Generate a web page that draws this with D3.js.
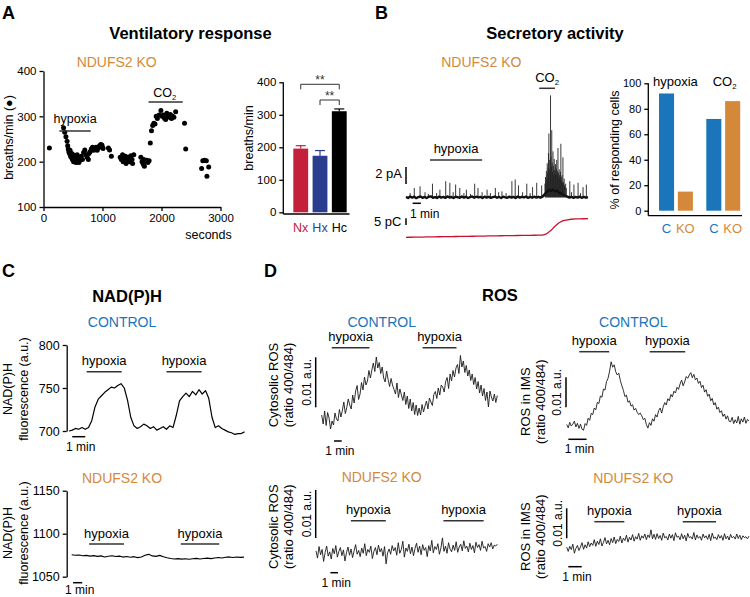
<!DOCTYPE html>
<html>
<head>
<meta charset="utf-8">
<title>ndufs2_ko_figure</title>
<script src="https://cdn.jsdelivr.net/npm/d3@7"></script>
<style>
body{margin:0;background:#fff;}
</style>
</head>
<body>
<script>
// ---------- data ----------
// A: ventilation scatter [seconds, breaths/min]
var ventPoints = [[100,230],
 [340,275],[360,265],[380,255],[400,245],[410,235],[420,228],[430,222],[440,218],[450,225],[460,212],[470,210],[480,218],[490,205],[500,215],[510,200],[520,208],[530,203],[540,212],[550,198],[560,205],[570,215],[580,200],[590,208],[600,198],[610,210],[620,203],[640,212],[660,205],[680,220],[700,226],[720,215],[740,210],[760,205],[770,218],[790,222],[810,228],[830,232],[850,225],[870,228],[890,232],[910,225],[930,230],[950,235],[970,238],[990,237],[1000,232],[1010,229],
 [1100,230],[1120,226],[1150,212],
 [1300,210],[1320,205],[1340,215],[1350,200],[1370,208],[1390,212],[1400,196],[1420,205],[1440,210],[1460,200],[1480,213],[1500,205],[1510,196],[1530,215],
 [1650,210],[1670,200],[1690,195],[1700,205],[1710,190],[1730,200],[1750,203],[1770,198],[1790,202],
 [1810,241],[1830,268],[1850,280],[1870,285],[1890,283],[1910,300],[1930,295],[1960,303],[1990,313],[2010,300],[2030,303],[2050,296],[2070,293],[2090,307],[2110,300],[2130,298],[2150,304],[2170,295],[2190,300],[2210,298],[2240,310],
 [2390,285],[2410,228],
 [2680,185],[2700,202],[2730,203],[2760,202],[2770,168],[2800,188]];
var ventHypoxia = [270, 800];
var ventCO2 = [1780, 2360];

// A: bar chart
var ventCats = ['Nx', 'Hx', 'Hc'];
var ventMeans = [196, 174, 311];
var ventSem = [9, 16, 7];
var ventColors = ['#c4203b', '#2b3d8f', '#000000'];

// B: amperometric trace (minutes, pA)
var ampBaseline = [0.05,-0.08,0.10,-0.04,0.07,-0.10,0.03,0.09,-0.06,0.04,
 -0.09,0.06,0.11,-0.05,0.02,-0.08,0.08,-0.03,0.05,-0.07,
 0.10,-0.02,0.04,-0.09,0.07,0.01,-0.06,0.09,-0.04,0.06,
 -0.08,0.03,0.10,-0.05,0.07,-0.02,0.05,-0.09,0.08,-0.03,
 0.06,-0.07,0.02,0.09,-0.05,0.04,-0.08,0.07,0.00,-0.06,
 0.08,-0.03,0.05,-0.09,0.10,-0.04,0.06,-0.02,0.09,-0.07,
 0.04,-0.05,0.07,-0.03,0.06,-0.04,0.08,0.35,0.60,0.85,
 0.75,0.90,0.70,0.80,0.55,0.45,0.30,0.18,0.08,-0.04,
 0.06,-0.07,0.05,-0.03,0.08,-0.06,0.04,-0.05,0.03];
var ampSpikes = [[0.5,0.5],[1.0,1.1],[1.7,1.3],[2.3,0.6],[2.7,0.4],[3.2,1.6],[3.7,0.5],[4.1,0.9],[4.8,1.9],[5.3,1.7],[5.7,0.6],[6.0,1.5],[6.5,1.1],[7.0,0.5],[7.3,0.9],[7.8,0.4],[8.3,1.6],[8.7,1.1],[9.2,0.6],[9.8,0.9],[10.2,0.5],[10.8,1.1],[11.2,0.6],[11.6,0.7],[12.1,0.5],[12.8,1.9],[13.2,2.1],[13.6,1.4],[14.1,0.6],[14.6,1.6],[15.0,0.5],[15.3,1.2],[15.8,1.7],[16.4,1.4],
 [16.80,1.6],[16.86,2.4],[16.92,1.9],[16.97,3.1],[17.02,2.2],[17.07,4.0],[17.12,2.8],[17.17,3.5],[17.22,5.2],[17.27,7.5],[17.32,3.3],[17.37,4.4],[17.42,2.9],[17.47,12.0],[17.52,4.8],[17.57,3.6],[17.62,7.9],[17.67,4.1],[17.72,3.0],[17.77,5.4],[17.82,3.7],[17.87,2.6],[17.92,4.5],[17.97,3.2],[18.02,2.8],[18.07,3.9],[18.12,2.5],[18.17,3.4],[18.22,4.4],[18.27,2.7],[18.32,3.1],[18.37,5.8],[18.42,2.9],[18.47,2.3],[18.52,3.3],[18.57,2.6],[18.62,2.1],[18.67,3.0],[18.72,6.3],[18.77,2.4],[18.82,1.9],[18.87,2.6],[18.92,1.7],[18.97,4.7],[19.02,1.8],[19.07,1.5],[19.12,2.2],[19.17,1.4],[19.22,1.2],[19.30,1.6],[19.38,1.1],
 [19.8,1.9],[20.0,0.6],[20.3,1.5],[20.8,1.7],[21.1,0.5],[21.4,1.2],[21.8,1.5]];
// cumulative charge, pC, every 0.5 min
var ampCharge = [0,0.05,0.1,0.15,0.2,0.25,0.3,0.35,0.4,0.45,0.5,0.55,0.6,0.65,0.7,0.75,0.8,0.85,0.9,0.95,1.0,1.05,1.1,1.15,1.2,1.25,1.3,1.35,1.4,1.45,1.5,1.55,1.6,1.7,2.6,5.0,8.3,10.9,12.4,13.1,13.5,13.7,13.8,13.85,13.9];
var ampHypoxia = [2.9, 9.2];
var ampCO2 = [16.1, 18.0];

// B: % responding cells
var respGroups = ['hypoxia', 'CO2'];
var respKinds = ['C', 'KO'];
var respValues = [[92, 15], [72, 86]];

// C: NAD(P)H fluorescence (a.u.)
var nadCtl = [700,701,703,702,704,702,704,712,728,737,741,745,748,751,750,753,755,750,736,716,706,703,705,708,706,703,705,701,703,705,702,706,704,718,735,740,744,740,746,742,748,743,747,738,716,704,706,703,701,699,698,696,697,697,699];
var nadKO = [1075.5,1075.0,1075.3,1074.4,1074.8,1073.9,1074.5,1073.6,1074.2,1073.0,1073.8,1074.3,1073.4,1073.9,1072.8,1073.5,1072.6,1073.3,1072.2,1073.0,1075.0,1076.0,1074.2,1073.6,1074.8,1073.1,1072.0,1071.2,1070.6,1071.0,1070.4,1070.9,1070.2,1070.8,1071.3,1070.5,1071.1,1071.6,1071.0,1071.8,1072.3,1071.7,1072.6,1073.0,1072.4,1072.9,1072.5,1072.8];
var nadCtlHypoxia = [[1.36, 4.05], [7.5, 10.2]];
var nadKOHypoxia = [[1.9, 5.7], [11.9, 16.1]];

// D: ROS ratio 400/484, in 0.001 a.u. above the trace minimum
var cytoCtl = [3.0,1.2,3.8,0.9,3.5,2.4,0.2,1.8,
 1.0,3.4,2.2,1.8,4.1,2.6,3.9,5.6,3.3,4.5,6.2,5.0,4.2,7.0,5.4,7.8,8.9,6.1,7.2,9.5,8.0,10.6,9.0,9.8,11.9,10.4,
 12.0,13.4,11.7,14.6,12.4,13.5,
 11.3,12.6,10.4,9.6,11.8,10.1,8.7,10.3,9.0,8.1,7.2,9.4,6.5,8.2,7.0,5.9,7.6,5.1,6.8,4.3,6.2,3.8,
 5.5,3.1,5.0,2.9,
 4.4,3.0,5.1,3.6,4.8,5.8,4.2,6.4,5.6,4.9,7.1,7.7,6.3,8.4,7.0,9.0,8.6,7.6,9.7,10.5,8.3,11.2,9.8,11.9,10.6,12.4,13.1,
 11.3,14.9,12.6,13.8,
 11.5,12.9,10.8,12.0,9.9,11.2,9.1,10.5,8.2,9.7,7.4,9.0,6.8,8.3,5.9,7.6,4.6,7.8,6.6,5.8,7.2,5.5,6.9];
var cytoKO = [1.9,0.4,2.8,1.1,2.2,-0.3,1.6,2.9,0.8,1.7,0.2,2.4,1.3,3.0,0.6,1.8,2.6,0.9,2.1,-0.2,
 1.5,2.7,1.0,2.3,0.5,1.9,3.2,1.2,2.0,0.7,2.5,1.4,3.4,0.9,2.2,1.6,2.9,0.3,1.8,2.6,
 1.1,3.1,1.7,2.4,0.8,2.8,-0.8,1.5,2.3,1.2,3.0,1.9,2.6,1.0,3.6,1.4,2.2,3.9,0.6,2.5,
 1.8,3.3,1.3,2.7,0.9,2.4,3.5,1.6,2.9,1.1,3.2,2.0,2.6,0.7,3.0,1.9,4.1,1.5,2.8,2.2,
 3.4,1.2,2.5,4.6,1.8,2.9,1.4,3.6,2.3,1.7,3.1,2.0,3.8,1.6,2.7,3.3,1.9,4.0,2.4,2.9,
 1.7,3.5,2.2,3.0,1.5,3.7,2.6,3.2,2.0,3.9,2.5,2.8,1.8,3.4,2.7,3.6,2.3,3.1,2.9,3.3];
var imsCtl = [2.5,1.4,3.2,2.0,2.6,3.6,1.7,2.9,1.2,2.6,0.9,0.6,
 2.8,2.2,4.6,3.9,6.2,5.8,8.0,7.4,9.9,9.5,12.0,11.6,14.3,14.0,16.8,17.9,20.3,23.4,
 21.6,22.4,20.1,19.0,19.6,17.2,15.4,13.9,11.8,12.3,9.9,10.4,8.6,9.1,7.3,7.9,6.6,5.8,6.3,
 5.4,4.1,4.6,2.5,1.3,
 3.1,2.2,4.4,3.6,5.8,5.0,7.1,8.0,6.3,8.4,9.8,9.0,11.1,10.4,12.5,11.7,13.6,13.0,14.9,14.2,16.0,17.3,15.4,16.7,18.5,17.9,19.0,19.8,
 18.1,19.2,17.4,18.0,16.2,16.9,14.8,15.6,13.3,14.1,11.9,12.6,10.4,11.2,9.0,9.8,7.6,8.3,6.5,7.1,5.2,6.0,4.3,5.4,3.6,3.4,
 4.9,2.8,4.1,3.0,5.2,2.6,4.4,3.3,5.0,2.9,4.2,3.7];
var imsKO = [1.6,0.2,1.9,0.8,2.6,-0.4,1.2,2.2,0.5,1.7,3.1,0.9,2.4,1.3,3.4,1.8,3.0,2.2,4.1,1.9,
 3.6,2.5,4.4,2.0,3.2,4.8,2.7,3.9,2.4,4.5,3.1,5.0,2.8,4.2,3.5,5.3,3.0,4.6,3.8,5.6,
 3.3,4.9,4.0,5.8,3.6,5.1,4.3,6.2,3.9,5.4,4.6,6.0,4.1,5.7,4.8,7.4,4.4,5.9,4.2,6.1,
 4.5,5.5,3.9,6.3,4.7,5.2,4.0,6.0,4.6,5.8,3.8,6.4,4.9,5.3,4.1,6.1,4.4,5.6,3.7,6.2,
 4.8,5.1,4.3,6.5,4.0,5.7,4.6,5.2,3.9,6.0,4.7,5.4,4.2,5.9,3.8,6.3,4.5,5.0,4.1,5.8,
 4.6,5.5,3.9,6.1,4.4,5.3,4.0,5.9,4.7,5.2,4.3,6.0,4.5,5.6,4.1,5.4,4.8,5.1,4.4,5.3];
var cytoCtlHypoxia = [[1.3, 6.2], [13.1, 17.5]];
var cytoKOHypoxia = [[4.6, 9.2], [16.8, 22.1]];
var imsCtlHypoxia = [[0.69, 2.33], [4.55, 6.5]];
var imsKOHypoxia = [[2.06, 4.3], [8.66, 11.14]];

// ---------- helpers ----------
var FONT = '"Liberation Sans", Arial, Helvetica, sans-serif';
var ORANGE = '#d4893a', BLUE = '#1a75bb';

var svg = d3.select('body').append('svg')
  .attr('width', 750).attr('height', 597)
  .style('background', '#fff');

function label(x, y, s, size, opt) {
  opt = opt || {};
  return svg.append('text')
    .attr('x', x).attr('y', y)
    .attr('font-size', size).attr('font-family', FONT)
    .attr('text-anchor', opt.anchor || 'middle')
    .attr('fill', opt.fill || '#000')
    .attr('font-weight', opt.bold ? 'bold' : null)
    .text(s);
}
function vlabel(x, y, s, size) {
  return svg.append('text')
    .attr('transform', 'translate(' + x + ',' + y + ') rotate(-90)')
    .attr('text-anchor', 'middle').attr('dominant-baseline', 'central')
    .attr('font-size', size).attr('font-family', FONT).attr('fill', '#000')
    .text(s);
}
function co2(x, y, size) {
  var t = label(x, y, 'CO', size);
  t.append('tspan').attr('font-size', size * 0.6).attr('dy', 3).text('2');
  return t;
}
function seg(x1, y1, x2, y2, w, col) {
  return svg.append('line')
    .attr('x1', x1).attr('y1', y1).attr('x2', x2).attr('y2', y2)
    .attr('stroke', col || '#000').attr('stroke-width', w || 1.3);
}
function styleAxis(g, size) {
  g.attr('font-family', FONT).attr('font-size', size);
  g.select('.domain').attr('stroke', '#000').attr('stroke-width', 1.3);
  g.selectAll('.tick line').attr('stroke', '#000').attr('stroke-width', 1.3);
  g.selectAll('.tick text').attr('fill', '#000');
}
function drawTrace(vals, xs, ys, w, col) {
  var dur = xs.domain()[1];
  var line = d3.line()
    .x(function(d, i) { return xs(i * dur / (vals.length - 1)); })
    .y(function(d) { return ys(d); });
  svg.append('path').datum(vals).attr('d', line)
    .attr('fill', 'none').attr('stroke', col || '#000')
    .attr('stroke-width', w || 1).attr('stroke-linejoin', 'round');
}
function hypoxiaBars(periods, xs, y, size) {
  periods.forEach(function(p) {
    seg(xs(p[0]), y, xs(p[1]), y, 1.5, '#333');
    label((xs(p[0]) + xs(p[1])) / 2, y - 6.5, 'hypoxia', size);
  });
}
function minuteBar(xs, t0, y, textY) {
  seg(xs(t0), y, xs(t0 + 1), y, 1.5);
  label((xs(t0) + xs(t0 + 1)) / 2 + 2, textY, '1 min', 12);
}

// ---------- panel letters and titles ----------
label(2, 18.5, 'A', 18, {anchor: 'start', bold: true});
label(375, 18.5, 'B', 18, {anchor: 'start', bold: true});
label(2, 277, 'C', 18, {anchor: 'start', bold: true});
label(264, 277, 'D', 18, {anchor: 'start', bold: true});
label(190.5, 38.5, 'Ventilatory response', 16.5, {bold: true});
label(555, 38.5, 'Secretory activity', 16.5, {bold: true});
label(127, 301.5, 'NAD(P)H', 16.5, {bold: true});
label(500, 300.5, 'ROS', 16.5, {bold: true});

// ---------- A: scatter ----------
label(116.7, 66.5, 'NDUFS2 KO', 14, {fill: ORANGE});
var xA = d3.scaleLinear().domain([0, 3000]).range([43.5, 220.5]);
var yA = d3.scaleLinear().domain([100, 400]).range([207, 71]);
var gAy = svg.append('g').attr('transform', 'translate(43.5,0)')
  .call(d3.axisLeft(yA).tickValues([100, 200, 300, 400]).tickSize(4).tickSizeOuter(0).tickPadding(3));
styleAxis(gAy, 11.5);
var gAx = svg.append('g').attr('transform', 'translate(0,207)')
  .call(d3.axisBottom(xA).tickValues([0, 1000, 2000, 3000]).tickSize(4).tickSizeOuter(0).tickPadding(3).tickFormat(d3.format('d')));
styleAxis(gAx, 11.5);
label(208.5, 238.5, 'seconds', 12.5);
vlabel(9, 137.5, 'breaths/min (\u25CF)', 12.5);
svg.append('g').selectAll('circle')
  .data(ventPoints).enter().append('circle')
  .attr('cx', function(d) { return xA(d[0]); })
  .attr('cy', function(d) { return yA(d[1]); })
  .attr('r', 2.5).attr('fill', '#000');
seg(xA(ventHypoxia[0]), 131, xA(ventHypoxia[1]), 131, 1.5, '#333');
label((xA(ventHypoxia[0]) + xA(ventHypoxia[1])) / 2, 122.5, 'hypoxia', 12.5);
seg(xA(ventCO2[0]), 102, xA(ventCO2[1]), 102, 1.5, '#333');
co2((xA(ventCO2[0]) + xA(ventCO2[1])) / 2 - 1, 96.5, 12.5);

// ---------- A: bar chart ----------
var xV = d3.scaleBand().domain(ventCats).range([291, 349]).paddingInner(0.23).paddingOuter(0.12);
var yV = d3.scaleLinear().domain([0, 400]).range([212.3, 82.3]);
var gVy = svg.append('g').attr('transform', 'translate(283.3,0)')
  .call(d3.axisLeft(yV).tickValues([0, 100, 200, 300, 400]).tickSize(4).tickSizeOuter(0).tickPadding(3));
styleAxis(gVy, 11.5);
gVy.select('.domain').attr('d', 'M0,' + yV(400) + 'V214');
seg(283.3, 214, 349.5, 214);
vlabel(249, 138, 'breaths/min', 12.5);
svg.append('g').selectAll('rect')
  .data(ventCats).enter().append('rect')
  .attr('x', function(d) { return xV(d); })
  .attr('y', function(d, i) { return yV(ventMeans[i]); })
  .attr('width', xV.bandwidth())
  .attr('height', function(d, i) { return yV(0) - yV(ventMeans[i]); })
  .attr('fill', function(d, i) { return ventColors[i]; });
ventCats.forEach(function(c, i) {
  var cx = xV(c) + xV.bandwidth() / 2;
  var top = yV(ventMeans[i] + ventSem[i]);
  seg(cx, yV(ventMeans[i]), cx, top, 1.2, ventColors[i]);
  seg(cx - 5, top, cx + 5, top, 1.2, ventColors[i]);
  label(cx, 231.5, c, 12.5, {fill: ventColors[i]});
});
function bracket(a, b, y) {
  var xa = xV(a) + xV.bandwidth() / 2, xb = xV(b) + xV.bandwidth() / 2;
  svg.append('path')
    .attr('d', 'M' + xa + ',' + (y + 5) + 'V' + y + 'H' + xb + 'V' + (y + 5))
    .attr('fill', 'none').attr('stroke', '#333').attr('stroke-width', 1);
  label((xa + xb) / 2, y - 0.5, '**', 12, {fill: '#333'});
}
bracket('Nx', 'Hc', 84.3);
bracket('Hx', 'Hc', 100);

// ---------- B: amperometry ----------
label(481.3, 66.5, 'NDUFS2 KO', 14, {fill: ORANGE});
var xT = d3.scaleLinear().domain([0, 22]).range([406, 588]);
var yT = d3.scaleLinear().domain([0, 12]).range([197.3, 95.3]);
var yQ = d3.scaleLinear().domain([0, 13.9]).range([237.3, 218.7]);
svg.append('g').selectAll('line')
  .data(ampSpikes).enter().append('line')
  .attr('x1', function(d) { return xT(d[0]); })
  .attr('x2', function(d) { return xT(d[0]); })
  .attr('y1', yT(0))
  .attr('y2', function(d) { return yT(d[1]); })
  .attr('stroke', '#222').attr('stroke-width', 0.9);
drawTrace(ampBaseline, xT, yT, 2.4, '#111');
drawTrace(ampCharge, xT, yQ, 1.3, '#c8102e');
// scale bars
seg(406, 167, 406, 167 + (yT(0) - yT(2)), 1.5);
label(402, 178, '2 pA', 13, {anchor: 'end'});
seg(xT(0.8), 203.3, xT(1.8), 203.3, 1.5);
label(410, 218, '1 min', 12, {anchor: 'start'});
seg(406, 218.3, 406, 218.3 + (yQ(0) - yQ(5)), 1.5);
label(401.5, 225.5, '5 pC', 13, {anchor: 'end'});
seg(xT(ampHypoxia[0]), 160, xT(ampHypoxia[1]), 160, 1.5, '#333');
label((xT(ampHypoxia[0]) + xT(ampHypoxia[1])) / 2, 152.5, 'hypoxia', 13);
seg(xT(ampCO2[0]), 88.3, xT(ampCO2[1]), 88.3, 1.5, '#333');
co2((xT(ampCO2[0]) + xT(ampCO2[1])) / 2, 82, 13);

// ---------- B: responding cells ----------
var x0 = d3.scaleBand().domain(respGroups).range([659, 741]).paddingInner(0.266).paddingOuter(0);
var x1 = d3.scaleBand().domain(respKinds).range([0, 33.9]).paddingInner(0.2).paddingOuter(0);
var yR = d3.scaleLinear().domain([0, 100]).range([210.7, 83.3]);
var gRy = svg.append('g').attr('transform', 'translate(648.3,0)')
  .call(d3.axisLeft(yR).tickValues([0, 20, 40, 60, 80, 100]).tickSize(4).tickSizeOuter(0).tickPadding(3));
styleAxis(gRy, 11);
gRy.select('.domain').attr('d', 'M0,' + yR(100) + 'V215.7');
seg(648.3, 215.7, 742, 215.7);
vlabel(615, 150, '% of responding cells', 12.5);
respGroups.forEach(function(g, gi) {
  respKinds.forEach(function(k, ki) {
    var x = x0(g) + x1(k);
    var v = respValues[gi][ki];
    var col = k === 'C' ? BLUE : ORANGE;
    svg.append('rect').attr('x', x).attr('y', yR(v))
      .attr('width', x1.bandwidth()).attr('height', yR(0) - yR(v))
      .attr('fill', col);
    label(x + x1.bandwidth() / 2, 232.5, k, 13, {fill: col});
  });
});
label(x0('hypoxia') + x0.bandwidth() / 2 - 1, 85.5, 'hypoxia', 13);
co2(x0('CO2') + x0.bandwidth() / 2 + 1, 85.5, 13);

// ---------- C: NAD(P)H ----------
label(122, 326.5, 'CONTROL', 14, {fill: BLUE});
var xC1 = d3.scaleLinear().domain([0, 13.5]).range([69, 244.5]);
var yC1 = d3.scaleLinear().domain([700, 800]).range([431, 345]);
var gC1 = svg.append('g').attr('transform', 'translate(66.7,0)')
  .call(d3.axisLeft(yC1).tickValues([700, 750, 800]).tickSize(4).tickSizeOuter(0).tickPadding(3));
styleAxis(gC1, 12.5);
drawTrace(nadCtl, xC1, yC1, 1.2);
hypoxiaBars(nadCtlHypoxia, xC1, 371.7, 13);
minuteBar(xC1, 0.25, 436.7, 451);
vlabel(8, 389, 'NAD(P)H', 12.5);
vlabel(24, 389, 'fluorescence (a.u.)', 12.5);

label(122, 482.5, 'NDUFS2 KO', 14, {fill: ORANGE});
var xC2 = d3.scaleLinear().domain([0, 18.8]).range([71.7, 244]);
var yC2 = d3.scaleLinear().domain([1050, 1150]).range([576.7, 490.7]);
var gC2 = svg.append('g').attr('transform', 'translate(66.7,0)')
  .call(d3.axisLeft(yC2).tickValues([1050, 1100, 1150]).tickSize(4).tickSizeOuter(0).tickPadding(3).tickFormat(d3.format('d')));
styleAxis(gC2, 12.5);
drawTrace(nadKO, xC2, yC2, 1.1);
hypoxiaBars(nadKOHypoxia, xC2, 544, 13);
minuteBar(xC2, 0.15, 582.7, 594);
vlabel(8, 533, 'NAD(P)H', 12.5);
vlabel(24, 533, 'fluorescence (a.u.)', 12.5);

// ---------- D: ROS ----------
function rosPanel(opt) {
  label(opt.cx, opt.titleY, opt.title, 14, {fill: opt.titleCol});
  var xs = d3.scaleLinear().domain([0, opt.dur]).range(opt.xr);
  var ys = d3.scaleLinear().domain([0, 10]).range([opt.y0, opt.y0 - opt.unit]);
  drawTrace(opt.vals, xs, ys, 0.9, '#1a1a1a');
  hypoxiaBars(opt.hyp, xs, opt.hypY, 13);
  seg(opt.barX, opt.barTop, opt.barX, opt.barTop + (ys(0) - ys(10)), 1.5);
  vlabel(opt.barX - 9, opt.barTop + opt.unit / 2, '0.01 a.u.', 12);
  minuteBar(xs, opt.minT, opt.minY, opt.minY + 14);
  vlabel(opt.labX, opt.labY, opt.name, 13);
  vlabel(opt.labX + 15, opt.labY, '(ratio 400/484)', 13);
}
rosPanel({title: 'CONTROL', titleCol: BLUE, cx: 381.7, titleY: 326.5,
  vals: cytoCtl, dur: 22.8, xr: [321.7, 497.3], y0: 430, unit: 50,
  hyp: cytoCtlHypoxia, hypY: 347.7, barX: 315.7, barTop: 357.3,
  minT: 1.6, minY: 441, labX: 273, labY: 385, name: 'Cytosolic ROS'});
rosPanel({title: 'NDUFS2 KO', titleCol: ORANGE, cx: 381.7, titleY: 481.7,
  vals: cytoKO, dur: 23.9, xr: [316, 497.3], y0: 560, unit: 48,
  hyp: cytoKOHypoxia, hypY: 520.7, barX: 315.7, barTop: 490,
  minT: 1.9, minY: 572.7, labX: 273, labY: 526.7, name: 'Cytosolic ROS'});
rosPanel({title: 'CONTROL', titleCol: BLUE, cx: 633.3, titleY: 326.5,
  vals: imsCtl, dur: 10, xr: [566.7, 749], y0: 432, unit: 30,
  hyp: imsCtlHypoxia, hypY: 351.7, barX: 566, barTop: 377.3,
  minT: 0.09, minY: 439.3, labX: 525, labY: 401.7, name: 'ROS in IMS'});
rosPanel({title: 'NDUFS2 KO', titleCol: ORANGE, cx: 633.3, titleY: 482.5,
  vals: imsKO, dur: 13.6, xr: [566.7, 749], y0: 552, unit: 30,
  hyp: imsKOHypoxia, hypY: 521.7, barX: 566.7, barTop: 508.3,
  minT: 0.12, minY: 566.7, labX: 525, labY: 536.7, name: 'ROS in IMS'});
</script>
</body>
</html>
